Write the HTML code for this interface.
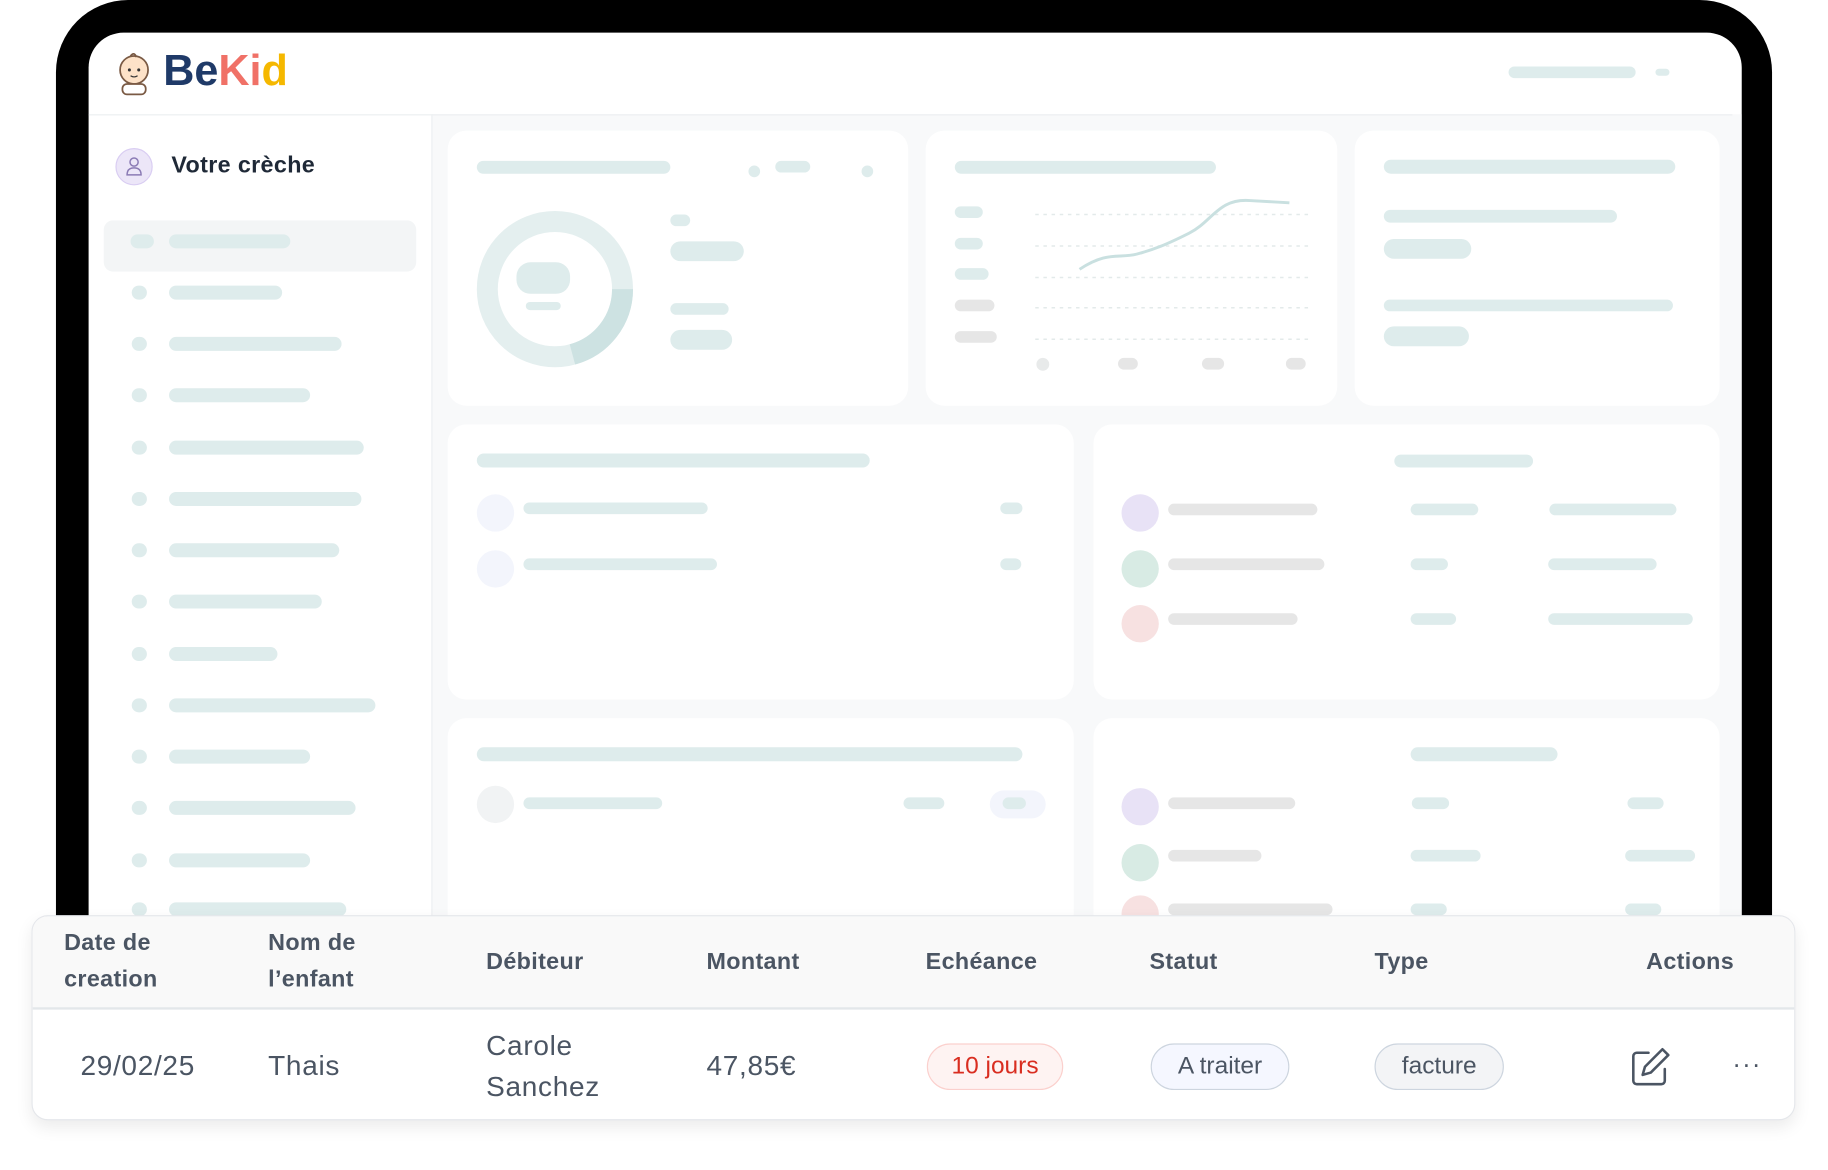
<!DOCTYPE html><html><head><meta charset="utf-8"><style>
*{margin:0;padding:0;box-sizing:border-box}
body{width:1828px;height:1170px;overflow:hidden;background:#fff;font-family:"Liberation Sans",sans-serif}
#w{position:absolute;left:0;top:0;width:1568px;height:1003px;transform:scale(1.16582);transform-origin:0 0}
.a{position:absolute}
.b{position:absolute;background:#deecec;border-radius:6px;height:10px}
.g{position:absolute;background:#e6e6e6;border-radius:6px;height:10px}
.c{position:absolute;background:#fff;border-radius:16px}
.d{position:absolute;border-radius:50%}
.th{position:absolute;font-size:20px;font-weight:bold;color:#4b5563;line-height:31px;letter-spacing:0.3px}
.td{position:absolute;font-size:24px;color:#4b5563;line-height:35px;letter-spacing:0.6px}
.pill{position:absolute;height:40px;border-radius:20px;font-size:21px;text-align:center;line-height:38px;border:1.5px solid}
</style></head><body><div id="w">
<div class="a" style="left:48px;top:0;width:1472px;height:800px;background:#000;border-radius:62px 62px 0 0"></div>
<div class="a" style="left:76px;top:28px;width:1418px;height:772px;background:#fff;border-radius:30px 30px 0 0;overflow:hidden">
 <div class="a" style="left:294px;top:70px;width:1124px;height:710px;background:#f8f9fa"></div>
 <div class="a" style="left:0;top:70px;width:1410px;height:1px;background:#eceff1"></div>
 <div class="a" style="left:294px;top:70px;width:1px;height:710px;background:#eceff1"></div>
</div>
<svg class="a" style="left:97px;top:43px" width="36" height="40" viewBox="0 0 36 40"><circle cx="18" cy="17" r="12" fill="#fde2c8" stroke="#7a5a44" stroke-width="1.5"/><circle cx="14" cy="17" r="1.3" fill="#333"/><circle cx="22" cy="17" r="1.3" fill="#333"/><path d="M15 22q3 2 6 0" stroke="#333" fill="none"/><path d="M15 5q3-4 5 1" stroke="#7a5a44" fill="none" stroke-width="1.5"/><rect x="8" y="29" width="20" height="9" rx="4" fill="#fff" stroke="#7a5a44" stroke-width="1.5"/></svg>
<div class="a" style="left:140px;top:40px;font-size:37px;font-weight:bold;letter-spacing:0px"><span style="color:#1f3a68">Be</span><span style="color:#f07167">K</span><span style="color:#f07167">i</span><span style="color:#f5b800">d</span></div>
<div class="b" style="left:1294px;top:57px;width:109px"></div>
<div class="b" style="left:1420px;top:59px;width:12px;height:6px"></div>
<div class="d" style="left:99px;top:127px;width:32px;height:32px;background:#ece6f8;border:1px solid #d9cdf2"></div>
<svg class="a" style="left:107px;top:134px" width="16" height="18"><circle cx="8" cy="5" r="3.5" fill="none" stroke="#8b7bb5" stroke-width="1.3"/><path d="M2 16q0-6 6-6t6 6z" fill="none" stroke="#8b7bb5" stroke-width="1.3"/></svg>
<div class="a" style="left:147px;top:131px;font-size:20px;font-weight:bold;color:#1f2937;letter-spacing:0.3px">Votre crèche</div>
<div class="a" style="left:89px;top:189px;width:268px;height:44px;background:#f3f5f6;border-radius:8px"></div>
<div id="sb"></div>
<div class="c" style="left:384px;top:112px;width:395px;height:236px"></div>
<div class="c" style="left:794px;top:112px;width:353px;height:236px"></div>
<div class="c" style="left:1162px;top:112px;width:313px;height:236px"></div>
<div class="c" style="left:384px;top:364px;width:537px;height:236px"></div>
<div class="c" style="left:938px;top:364px;width:537px;height:236px"></div>
<div class="c" style="left:384px;top:616px;width:537px;height:200px"></div>
<div class="c" style="left:938px;top:616px;width:537px;height:200px"></div>
<div class="b" style="left:409px;top:138px;width:166px;height:11px"></div>
<div class="d" style="left:642px;top:142px;width:10px;height:10px;background:#deecec"></div>
<div class="b" style="left:665px;top:138px;width:30px"></div>
<div class="d" style="left:739px;top:142px;width:10px;height:10px;background:#deecec"></div>
<svg class="a" style="left:405px;top:177px" width="142" height="142"><circle cx="71" cy="71" r="58" fill="none" stroke="#e4efef" stroke-width="18"/><path d="M129 71A58 58 0 0 1 86 127" fill="none" stroke="#cde2e2" stroke-width="18"/></svg>
<div class="a" style="left:443px;top:225px;width:46px;height:27px;background:#deecec;border-radius:12px"></div>
<div class="b" style="left:451px;top:259px;width:30px;height:7px"></div>
<div class="b" style="left:575px;top:184px;width:17px"></div>
<div class="b" style="left:575px;top:207px;width:63px;height:17px;border-radius:9px"></div>
<div class="b" style="left:575px;top:260px;width:50px"></div>
<div class="b" style="left:575px;top:283px;width:53px;height:17px;border-radius:9px"></div>
<div class="b" style="left:819px;top:138px;width:224px;height:11px"></div>
<div class="b" style="left:819px;top:177px;width:24px"></div>
<div class="b" style="left:819px;top:204px;width:24px"></div>
<div class="b" style="left:819px;top:230px;width:29px"></div>
<div class="g" style="left:819px;top:257px;width:34px"></div>
<div class="g" style="left:819px;top:284px;width:36px"></div>
<svg class="a" style="left:880px;top:160px" width="250" height="165"><g stroke="#e3eaea" stroke-dasharray="3 4" stroke-width="1.3"><line x1="8" y1="24" x2="242" y2="24"/><line x1="8" y1="51" x2="242" y2="51"/><line x1="8" y1="78" x2="242" y2="78"/><line x1="8" y1="104" x2="242" y2="104"/><line x1="8" y1="131" x2="242" y2="131"/></g><path d="M46 71C70 55 80 62 95 58S120 50 140 40S165 10 192 12L226 14" fill="none" stroke="#c9e0e0" stroke-width="2.5"/></svg>
<div class="d" style="left:889px;top:307px;width:11px;height:11px;background:#e8eaea"></div>
<div class="g" style="left:959px;top:307px;width:17px"></div>
<div class="g" style="left:1031px;top:307px;width:19px"></div>
<div class="g" style="left:1103px;top:307px;width:17px"></div>
<div class="b" style="left:1187px;top:137px;width:250px;height:12px"></div>
<div class="b" style="left:1187px;top:180px;width:200px;height:11px"></div>
<div class="b" style="left:1187px;top:205px;width:75px;height:17px;border-radius:9px"></div>
<div class="b" style="left:1187px;top:257px;width:248px"></div>
<div class="b" style="left:1187px;top:280px;width:73px;height:17px;border-radius:9px"></div>
<div class="b" style="left:409px;top:389px;width:337px;height:12px"></div>
<div class="d" style="left:409px;top:424px;width:32px;height:32px;background:#f3f5fc"></div>
<div class="b" style="left:449px;top:431px;width:158px"></div>
<div class="b" style="left:858px;top:431px;width:19px"></div>
<div class="d" style="left:409px;top:472px;width:32px;height:32px;background:#f3f5fc"></div>
<div class="b" style="left:449px;top:479px;width:166px"></div>
<div class="b" style="left:858px;top:479px;width:18px"></div>
<div class="b" style="left:1196px;top:390px;width:119px;height:11px"></div>
<div class="d" style="left:962px;top:424px;width:32px;height:32px;background:#e8e2f6"></div>
<div class="d" style="left:962px;top:472px;width:32px;height:32px;background:#d8ebe4"></div>
<div class="d" style="left:962px;top:519px;width:32px;height:32px;background:#f7e1e1"></div>
<div class="g" style="left:1002px;top:432px;width:128px"></div>
<div class="g" style="left:1002px;top:479px;width:134px"></div>
<div class="g" style="left:1002px;top:526px;width:111px"></div>
<div class="b" style="left:1210px;top:432px;width:58px"></div>
<div class="b" style="left:1210px;top:479px;width:32px"></div>
<div class="b" style="left:1210px;top:526px;width:39px"></div>
<div class="b" style="left:1329px;top:432px;width:109px"></div>
<div class="b" style="left:1328px;top:479px;width:93px"></div>
<div class="b" style="left:1328px;top:526px;width:124px"></div>
<div class="b" style="left:409px;top:641px;width:468px;height:12px"></div>
<div class="d" style="left:409px;top:674px;width:32px;height:32px;background:#f1f3f4"></div>
<div class="b" style="left:449px;top:684px;width:119px"></div>
<div class="b" style="left:775px;top:684px;width:35px"></div>
<div class="a" style="left:849px;top:678px;width:48px;height:24px;border-radius:12px;background:#f3f5fc"></div>
<div class="b" style="left:860px;top:684px;width:20px"></div>
<div class="b" style="left:1210px;top:641px;width:126px;height:12px"></div>
<div class="d" style="left:962px;top:676px;width:32px;height:32px;background:#e8e2f6"></div>
<div class="d" style="left:962px;top:724px;width:32px;height:32px;background:#d8ebe4"></div>
<div class="d" style="left:962px;top:768px;width:32px;height:32px;background:#f7e1e1"></div>
<div class="g" style="left:1002px;top:684px;width:109px"></div>
<div class="g" style="left:1002px;top:729px;width:80px"></div>
<div class="g" style="left:1002px;top:775px;width:141px"></div>
<div class="b" style="left:1211px;top:684px;width:32px"></div>
<div class="b" style="left:1210px;top:729px;width:60px"></div>
<div class="b" style="left:1210px;top:775px;width:31px"></div>
<div class="b" style="left:1396px;top:684px;width:31px"></div>
<div class="b" style="left:1394px;top:729px;width:60px"></div>
<div class="b" style="left:1394px;top:775px;width:31px"></div>
<div class="a" style="left:27px;top:785px;width:1513px;height:176px;background:#fff;border-radius:14px;box-shadow:0 6px 14px rgba(0,0,0,0.08);border:1px solid #e5e7eb;overflow:hidden">
 <div class="a" style="left:0;top:0;width:1513px;height:80px;background:#f9f9f9;border-bottom:2px solid #e3e7ea"></div>
</div>
<div class="th" style="left:55px;top:794px">Date de<br>creation</div>
<div class="th" style="left:230px;top:794px">Nom de<br>l’enfant</div>
<div class="th" style="left:417px;top:810px">Débiteur</div>
<div class="th" style="left:606px;top:810px">Montant</div>
<div class="th" style="left:794px;top:810px">Echéance</div>
<div class="th" style="left:986px;top:810px">Statut</div>
<div class="th" style="left:1179px;top:810px">Type</div>
<div class="th" style="left:1412px;top:810px">Actions</div>
<div class="td" style="left:69px;top:897px">29/02/25</div>
<div class="td" style="left:230px;top:897px">Thais</div>
<div class="td" style="left:417px;top:880px">Carole<br>Sanchez</div>
<div class="td" style="left:606px;top:897px">47,85€</div>
<div class="pill" style="left:795px;top:895px;width:117px;background:#fef3f2;border-color:#fbd0cd;color:#d92d20">10 jours</div>
<div class="pill" style="left:987px;top:895px;width:119px;background:#f5f7ff;border-color:#cdd5df;color:#4b5563">A traiter</div>
<div class="pill" style="left:1179px;top:895px;width:111px;background:#f3f4f6;border-color:#cdd5df;color:#4b5563">facture</div>
<svg class="a" style="left:1399px;top:898px" width="36" height="34" viewBox="0 0 36 34"><path d="M15 5H5a3 3 0 0 0-3 3v21a3 3 0 0 0 3 3h21a3 3 0 0 0 3-3V19" fill="none" stroke="#4b5563" stroke-width="2.2" stroke-linecap="round"/><path d="M27 2l5 5-15 15-7 2 2-7z" fill="none" stroke="#4b5563" stroke-width="2.2" stroke-linejoin="round"/></svg>
<div class="a" style="left:1486px;top:900px;font-size:22px;color:#4b5563;letter-spacing:1px">···</div>
</div>
<script>
var ys=[207,251,295,339,384,428,472,516,561,605,649,693,738,780],ew=[249,242,293,266,312,310,291,276,238,322,266,305,266,297],h='';
for(var i=0;i<ys.length;i++){h+='<div class="d" style="left:'+(i==0?112:113)+'px;top:'+(ys[i]-6)+'px;width:'+(i==0?20:13)+'px;height:12px;background:#deecec;border-radius:6px"></div><div class="b" style="left:145px;top:'+(ys[i]-6)+'px;width:'+(ew[i]-145)+'px;height:12px"></div>';}
document.getElementById('sb').outerHTML=h;
</script>
</body></html>
